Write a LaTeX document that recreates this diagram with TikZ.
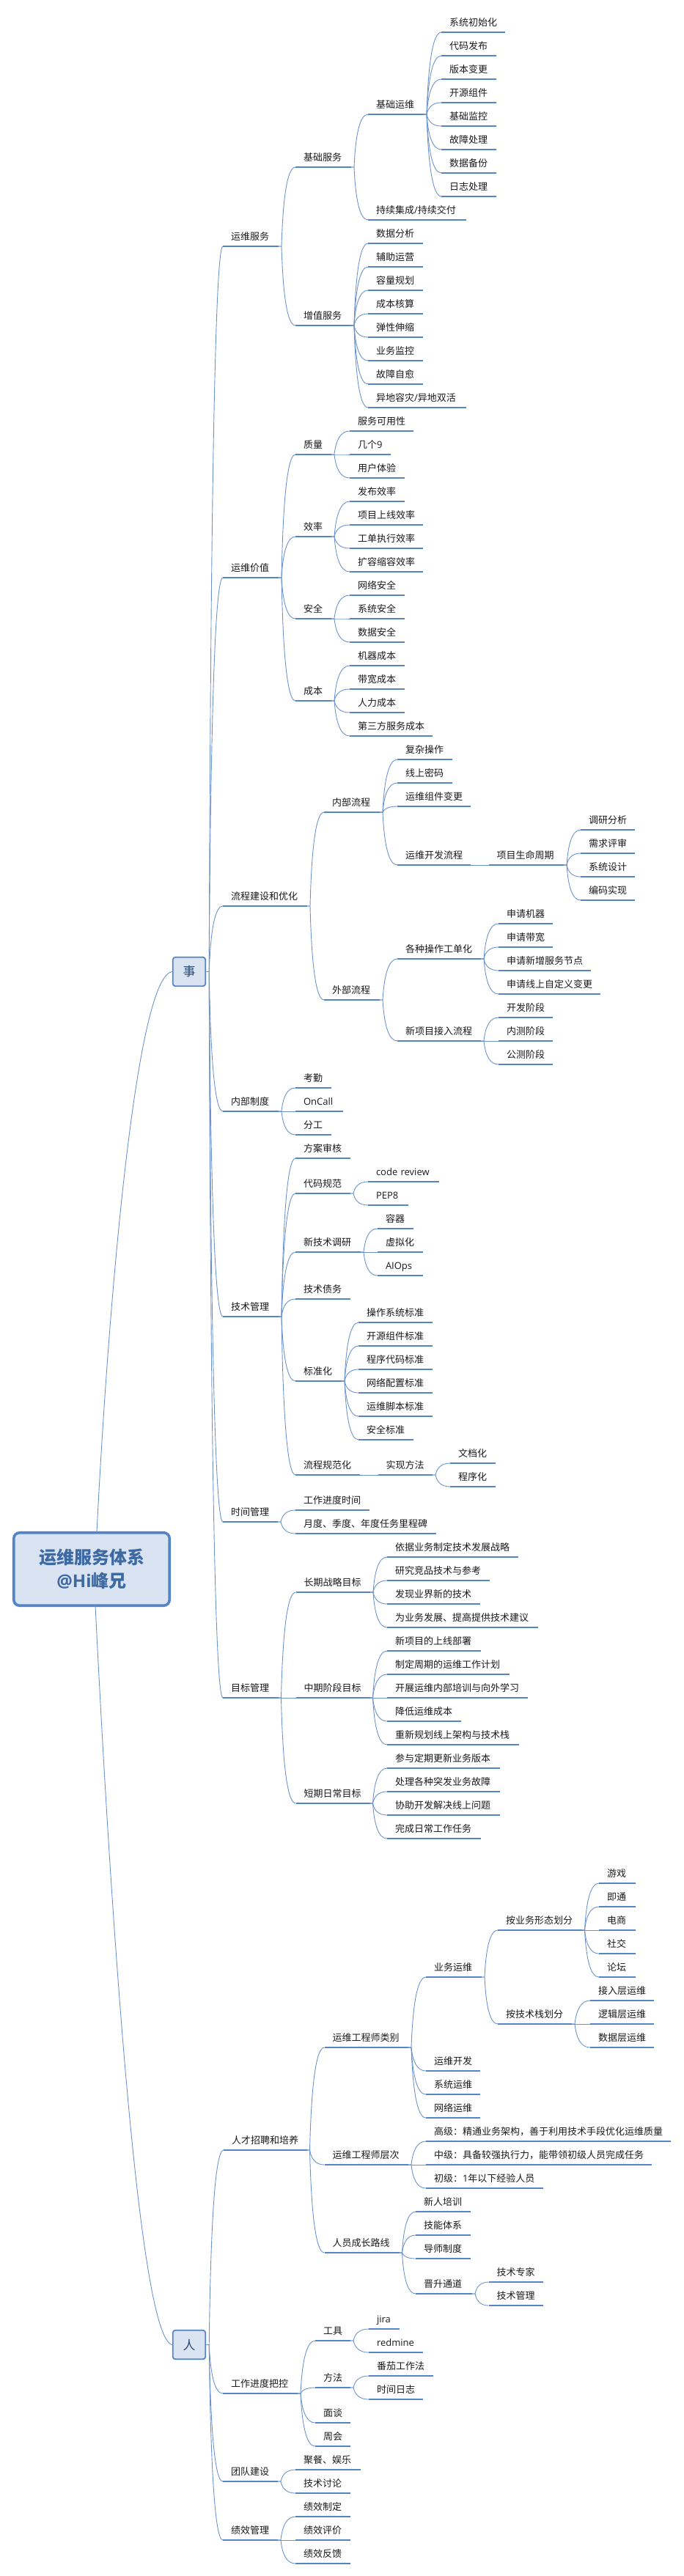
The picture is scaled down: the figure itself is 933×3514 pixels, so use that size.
\documentclass[tikz,border=0pt]{standalone}
\usepackage{fontspec}
\setmainfont{Noto Sans CJK SC}
\newfontfamily\latf{Open Sans}
\newcommand{\lat}[1]{{\latf #1}}
\usetikzlibrary{calc}
\definecolor{barc}{HTML}{5585C6}
\definecolor{connc}{HTML}{6C93CC}
\definecolor{boxf}{HTML}{DAE3F1}
\definecolor{rootc}{HTML}{3E6AA3}
\definecolor{txt}{HTML}{1A1A1A}
\tikzset{
  topic/.style={anchor=south west,inner sep=0pt,outer sep=0pt,align=left,text height=14pt,text depth=8.5pt,text=txt,font=\fontsize{13}{15}\selectfont},
  bar/.style={draw=barc,line width=2.6pt},
  conn/.style={draw=connc,line width=0.9pt},
  rootbox/.style={draw=barc,fill=boxf,line width=3.6pt,rounded corners=8pt,minimum width=212.5pt,minimum height=99.5pt,inner sep=0pt,outer sep=0pt,align=center,text=rootc,font=\fontsize{24}{32}\selectfont\bfseries},
  midbox/.style={draw=barc,fill=boxf,line width=1.8pt,rounded corners=3.5pt,minimum width=44.5pt,minimum height=39.5pt,inner sep=0pt,outer sep=0pt,text=rootc!70!black,font=\fontsize{17}{20}\selectfont}
}
\def\gap{4pt}
\newcommand{\tpx}[6]{%
  \pgfmathsetlengthmacro{\tw}{(#4-#3)*1pt}%
  \node[topic,text width=\tw] (#1) at (#3,#5) {\hskip 11pt\mbox{#6}};
  \draw[bar] (#1.south west) -- (#1.south east);
  \draw[conn] let \p1=(#2), \p2=(#1.south west), \n1={\x1+\gap}, \n2={\x2-\n1}, \n3={\y2-\y1} in
    (\p1) -- (\n1,\y1) .. controls ({\n1+0.1*\n2},{\y1+0.6*\n3}) and ({\n1+0.4*\n2},\y2) .. (\p2);
}
\newcommand{\tp}[6]{\tpx{#1}{#2.south east}{#3}{#4}{#5}{#6}}
\newcommand{\bx}[6]{{\def\gap{5pt}\tpx{#1}{#2.east}{#3}{#4}{#5}{#6}}}
\begin{document}
\begin{tikzpicture}[x=1pt,y=-1pt]
\useasboundingbox (0,0) rectangle (933,3514);
\fill[white] (0,0) rectangle (933,3514);
% root and main branches
\node[rootbox] (root) at (125,2140.5) {运维服务体系\\\lat{@Hi}峰兄};
\node[midbox] (shi) at (258,1325.5) {事};
\node[midbox] (ren) at (258,3198.5) {人};
\draw[conn] ([xshift=7pt]root.north) .. controls (147,1790) and (185,1326) .. (shi.west);
\draw[conn] ([xshift=5pt]root.south) .. controls (145,2490) and (185,3198) .. (ren.west);
% 运维服务
\bx{a}{shi}{304}{380}{336}{运维服务}
\tp{aa}{a}{403}{479}{228}{基础服务}
\tp{aaa}{aa}{502}{578}{156}{基础运维}
\tp{aaa1}{aaa}{602}{689}{44}{系统初始化}
\tp{aaa2}{aaa}{602}{677}{76}{代码发布}
\tp{aaa3}{aaa}{602}{677}{108}{版本变更}
\tp{aaa4}{aaa}{602}{677}{140}{开源组件}
\tp{aaa5}{aaa}{602}{677}{172}{基础监控}
\tp{aaa6}{aaa}{602}{677}{204}{故障处理}
\tp{aaa7}{aaa}{602}{677}{236}{数据备份}
\tp{aaa8}{aaa}{602}{677}{268}{日志处理}
\tp{aab}{aa}{502}{636}{300}{持续集成\lat{/}持续交付}
\tp{ab}{a}{403}{479}{444}{增值服务}
\tp{ab1}{ab}{502}{577}{332}{数据分析}
\tp{ab2}{ab}{502}{577}{364}{辅助运营}
\tp{ab3}{ab}{502}{577}{396}{容量规划}
\tp{ab4}{ab}{502}{577}{428}{成本核算}
\tp{ab5}{ab}{502}{577}{460}{弹性伸缩}
\tp{ab6}{ab}{502}{577}{492}{业务监控}
\tp{ab7}{ab}{502}{577}{524}{故障自愈}
\tp{ab8}{ab}{502}{636}{556}{异地容灾\lat{/}异地双活}
% 运维价值
\bx{b}{shi}{304}{380}{788}{运维价值}
\tp{ba}{b}{403}{452}{620}{质量}
\tp{ba1}{ba}{477}{564}{588}{服务可用性}
\tp{ba2}{ba}{477}{533}{620}{几个\lat{9}}
\tp{ba3}{ba}{477}{552}{652}{用户体验}
\tp{bb}{b}{403}{452}{732}{效率}
\tp{bb1}{bb}{477}{552}{684}{发布效率}
\tp{bb2}{bb}{477}{577}{716}{项目上线效率}
\tp{bb3}{bb}{477}{577}{748}{工单执行效率}
\tp{bb4}{bb}{477}{577}{780}{扩容缩容效率}
\tp{bc}{b}{403}{452}{844}{安全}
\tp{bc1}{bc}{477}{552}{812}{网络安全}
\tp{bc2}{bc}{477}{552}{844}{系统安全}
\tp{bc3}{bc}{477}{552}{876}{数据安全}
\tp{bd}{b}{403}{452}{956}{成本}
\tp{bd1}{bd}{477}{552}{908}{机器成本}
\tp{bd2}{bd}{477}{552}{940}{带宽成本}
\tp{bd3}{bd}{477}{552}{972}{人力成本}
\tp{bd4}{bd}{477}{590}{1004}{第三方服务成本}
% 流程建设和优化
\bx{c}{shi}{304}{419}{1236}{流程建设和优化}
\tp{ca}{c}{442}{518}{1108}{内部流程}
\tp{ca1}{ca}{542}{617}{1036}{复杂操作}
\tp{ca2}{ca}{542}{617}{1068}{线上密码}
\tp{ca3}{ca}{542}{642}{1100}{运维组件变更}
\tp{ca4}{ca}{542}{642}{1180}{运维开发流程}
\tp{cb}{ca4}{666.5}{769}{1180}{项目生命周期}
\tp{cb1}{cb}{792}{866}{1132}{调研分析}
\tp{cb2}{cb}{792}{866}{1164}{需求评审}
\tp{cb3}{cb}{792}{866}{1196}{系统设计}
\tp{cb4}{cb}{792}{866}{1228}{编码实现}
\tp{cc}{c}{442}{518}{1364}{外部流程}
\tp{cc1}{cc}{542}{656}{1308}{各种操作工单化}
\tp{cc11}{cc1}{680}{754}{1260}{申请机器}
\tp{cc12}{cc1}{680}{754}{1292}{申请带宽}
\tp{cc13}{cc1}{680}{806}{1324}{申请新增服务节点}
\tp{cc14}{cc1}{680}{819}{1356}{申请线上自定义变更}
\tp{cc2}{cc}{542}{656}{1420}{新项目接入流程}
\tp{cc21}{cc2}{680}{754}{1388}{开发阶段}
\tp{cc22}{cc2}{680}{754}{1420}{内测阶段}
\tp{cc23}{cc2}{680}{754}{1452}{公测阶段}
% 内部制度
\bx{d}{shi}{304}{380}{1516}{内部制度}
\tp{d1}{d}{403}{452}{1484}{考勤}
\tp{d2}{d}{403}{468}{1516}{\lat{OnCall}}
\tp{d3}{d}{403}{452}{1548}{分工}
% 技术管理
\bx{e}{shi}{304}{380}{1796}{技术管理}
\tp{e1}{e}{403}{478}{1580}{方案审核}
\tp{e2}{e}{403}{478}{1628}{代码规范}
\tp{e21}{e2}{502}{599}{1612}{\lat{code review}}
\tp{e22}{e2}{502}{557}{1644}{\lat{PEP8}}
\tp{e3}{e}{403}{492}{1708}{新技术调研}
\tp{e31}{e3}{515}{564}{1676}{容器}
\tp{e32}{e3}{515}{577}{1708}{虚拟化}
\tp{e33}{e3}{515}{577}{1740}{\lat{AIOps}}
\tp{e4}{e}{403}{478}{1772}{技术债务}
\tp{e5}{e}{403}{466}{1884}{标准化}
\tp{e51}{e5}{489}{590}{1804}{操作系统标准}
\tp{e52}{e5}{489}{590}{1836}{开源组件标准}
\tp{e53}{e5}{489}{590}{1868}{程序代码标准}
\tp{e54}{e5}{489}{590}{1900}{网络配置标准}
\tp{e55}{e5}{489}{590}{1932}{运维脚本标准}
\tp{e56}{e5}{489}{564}{1964}{安全标准}
\tp{e6}{e}{403}{491}{2012}{流程规范化}
\tp{e61}{e6}{515.5}{590}{2012}{实现方法}
\tp{e611}{e61}{614}{676}{1996}{文档化}
\tp{e612}{e61}{614}{676}{2028}{程序化}
% 时间管理
\bx{f}{shi}{304}{379}{2076}{时间管理}
\tp{f1}{f}{403}{504}{2060}{工作进度时间}
\tp{f2}{f}{403}{594.5}{2092}{月度、季度、年度任务里程碑}
% 目标管理
\bx{g}{shi}{304}{379.5}{2316}{目标管理}
\tp{ga}{g}{403.5}{505}{2172}{长期战略目标}
\tp{ga1}{ga}{528}{707}{2124}{依据业务制定技术发展战略}
\tp{ga2}{ga}{528}{668}{2156}{研究竞品技术与参考}
\tp{ga3}{ga}{528}{655}{2188}{发现业界新的技术}
\tp{ga4}{ga}{528}{733.5}{2220}{为业务发展、提高提供技术建议}
\tp{gb}{g}{403.5}{504.5}{2316}{中期阶段目标}
\tp{gb1}{gb}{528}{656}{2252}{新项目的上线部署}
\tp{gb2}{gb}{528}{694.5}{2284}{制定周期的运维工作计划}
\tp{gb3}{gb}{528}{720}{2316}{开展运维内部培训与向外学习}
\tp{gb4}{gb}{528}{629}{2348}{降低运维成本}
\tp{gb5}{gb}{528}{707.5}{2380}{重新规划线上架构与技术栈}
\tp{gc}{g}{403.5}{504.5}{2460}{短期日常目标}
\tp{gc1}{gc}{528}{682}{2412}{参与定期更新业务版本}
\tp{gc2}{gc}{528}{682}{2444}{处理各种突发业务故障}
\tp{gc3}{gc}{528}{682}{2476}{协助开发解决线上问题}
\tp{gc4}{gc}{528}{656}{2508}{完成日常工作任务}
% 人才招聘和培养
\bx{h}{ren}{305}{418.5}{2933}{人才招聘和培养}
\tp{ha}{h}{442.5}{557}{2793}{运维工程师类别}
\tp{haa}{ha}{581}{657}{2697}{业务运维}
\tp{haa1}{haa}{679}{793.5}{2633}{按业务形态划分}
\tp{haa11}{haa1}{817}{866.5}{2569}{游戏}
\tp{haa12}{haa1}{817}{866.5}{2601}{即通}
\tp{haa13}{haa1}{817}{866.5}{2633}{电商}
\tp{haa14}{haa1}{817}{866.5}{2665}{社交}
\tp{haa15}{haa1}{817}{866.5}{2697}{论坛}
\tp{haa2}{haa}{679}{780}{2761}{按技术栈划分}
\tp{haa21}{haa2}{805}{892}{2729}{接入层运维}
\tp{haa22}{haa2}{805}{892}{2761}{逻辑层运维}
\tp{haa23}{haa2}{805}{892}{2793}{数据层运维}
\tp{hab}{ha}{581}{655}{2825}{运维开发}
\tp{hac}{ha}{581}{655}{2857}{系统运维}
\tp{had}{ha}{581}{655}{2889}{网络运维}
\tp{hb}{h}{442.5}{557}{2953}{运维工程师层次}
\tp{hb1}{hb}{581}{915}{2921}{高级：精通业务架构，善于利用技术手段优化运维质量}
\tp{hb2}{hb}{581}{889}{2953}{中级：具备较强执行力，能带领初级人员完成任务}
\tp{hb3}{hb}{581}{741}{2985}{初级：\lat{1}年以下经验人员}
\tp{hc}{h}{442.5}{544.5}{3073}{人员成长路线}
\tp{hc1}{hc}{567}{642}{3017}{新人培训}
\tp{hc2}{hc}{567}{642}{3049}{技能体系}
\tp{hc3}{hc}{567}{642}{3081}{导师制度}
\tp{hc4}{hc}{567}{644}{3129}{晋升通道}
\tp{hc41}{hc4}{666.5}{741}{3113}{技术专家}
\tp{hc42}{hc4}{666.5}{741}{3145}{技术管理}
% 工作进度把控
\bx{i}{ren}{304}{406}{3265}{工作进度把控}
\tp{ia}{i}{430}{478}{3193}{工具}
\tp{ia1}{ia}{503}{544.5}{3177}{\lat{jira}}
\tp{ia2}{ia}{503}{577}{3209}{\lat{redmine}}
\tp{ib}{i}{430}{478}{3257}{方法}
\tp{ib1}{ib}{503}{590.5}{3241}{番茄工作法}
\tp{ib2}{ib}{503}{577}{3273}{时间日志}
\tp{ic}{i}{430}{478}{3305}{面谈}
\tp{id}{i}{430}{478}{3337}{周会}
% 团队建设
\bx{j}{ren}{304}{379}{3385}{团队建设}
\tp{j1}{j}{403}{492}{3369}{聚餐、娱乐}
\tp{j2}{j}{403}{478}{3401}{技术讨论}
% 绩效管理
\bx{k}{ren}{304}{379}{3465}{绩效管理}
\tp{k1}{k}{403}{478}{3433}{绩效制定}
\tp{k2}{k}{403}{478}{3465}{绩效评价}
\tp{k3}{k}{403}{478}{3497}{绩效反馈}
\end{tikzpicture}
\end{document}
